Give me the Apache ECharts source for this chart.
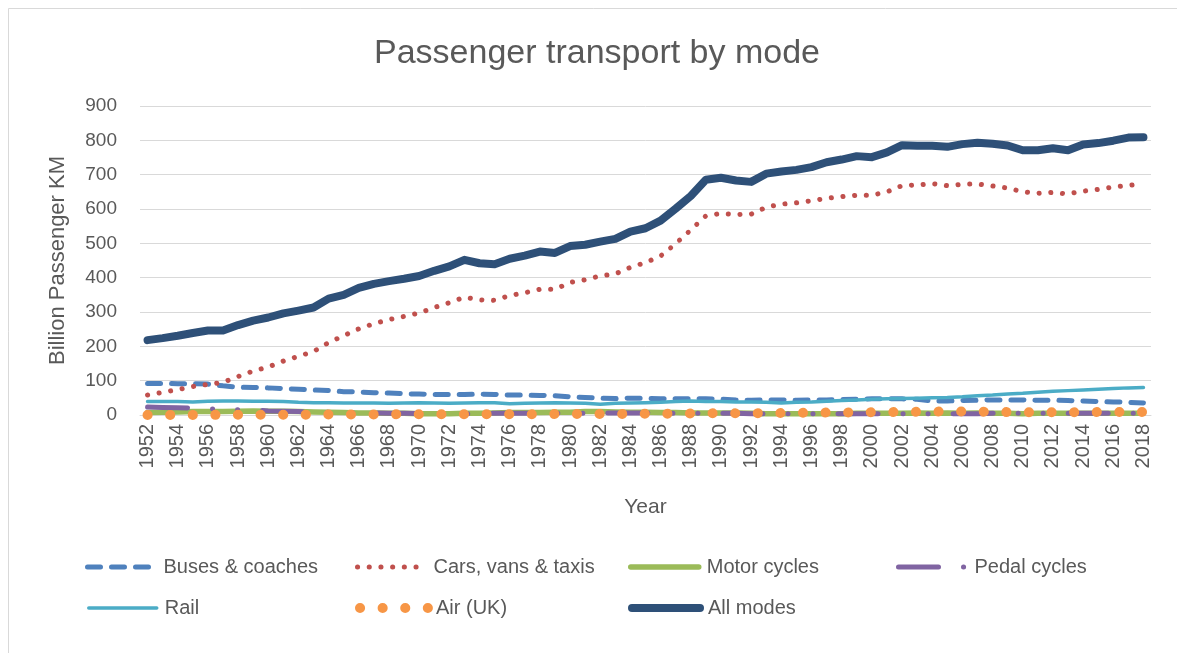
<!DOCTYPE html>
<html>
<head>
<meta charset="utf-8">
<script src="https://cdn.jsdelivr.net/npm/echarts@6/dist/echarts.min.js"></script>
<style>
html,body{margin:0;padding:0;background:#fff;}
#chart{width:1177px;height:653px;}
</style>
</head>
<body>
<div id="chart"></div>
<script>
const years = [];
for (let y = 1952; y <= 2018; y++) years.push(String(y));

const buses = [92,92,91,91,90,85,81,80,79,77,75,73,71,68,67,65,64,62,61,60,60,60,61,60,58,58,57,56,53,51,49,48,49,49,47,47,47,47,46,44,43,44,44,43,44,44,45,46,47,47,47,46,41,41,42,43,44,44,44,43,43,42,41,39,38,37,35];
const cars = [58,66,74,83,89,95,112,128,140,157,171,185,211,231,251,266,278,287,297,313,327,343,335,334,348,356,366,366,386,394,405,411,430,444,463,499,539,580,587,584,585,605,614,618,624,631,636,640,640,650,668,670,674,668,672,673,667,661,650,646,648,644,652,657,664,669,673];
const motorCycles = [7,8,9,10,10,10,11,12,11,11,10,9,8,7,6,6,5,5,4,4,4,5,5,6,7,7,7,8,8,10,10,9,8,8,7,7,6,6,6,6,5,4,4,4,4,4,4,5,5,5,5,6,5,6,5,6,5,5,4,5,5,5,5,5,5,5,5];
const pedalCycles = [23,22,21,20,18,17,15,14,12,11,10,9,8,7,6,6,5,5,4,4,4,4,4,5,5,5,5,5,5,5,6,6,6,6,5,5,5,5,5,5,4,4,4,4,4,4,4,4,4,4,4,4,4,4,4,4,5,5,5,5,5,5,5,5,5,5,5];
const rail = [39,39,39,38,40,41,41,40,40,39,37,36,36,35,35,35,34,35,36,35,34,35,36,36,33,34,35,36,35,34,31,34,35,36,37,39,41,39,39,38,38,37,35,37,38,40,42,44,46,47,48,49,50,51,53,56,58,61,63,66,69,71,73,75,77,79,80];
const air = [0.2,0.2,0.3,0.3,0.4,0.4,0.5,0.6,0.8,0.9,1.0,1.1,1.3,1.4,1.6,1.7,1.8,2.0,2.0,2.0,2.1,2.2,2.0,2.0,2.1,2.2,2.5,2.7,3.0,2.9,3.0,3.1,3.3,3.5,3.7,4.2,4.6,5.0,5.2,5.0,5.2,5.5,5.9,6.3,6.7,7.0,7.3,7.7,8.0,8.2,8.8,9.3,9.8,10.1,10.0,9.9,9.2,8.5,7.9,8.0,8.0,8.0,8.2,8.5,8.8,8.8,8.6];
const allModes = [218,224,231,239,246,246,262,275,284,296,304,313,339,350,370,382,390,397,405,420,433,452,442,439,455,464,476,472,492,496,505,513,534,544,566,601,638,685,691,683,679,703,709,714,722,736,744,754,751,765,786,784,784,781,789,793,790,785,771,771,777,771,788,792,799,808,809];

const yTicks = [0,100,200,300,400,500,600,700,800,900];

const FONT = '"Liberation Sans", Arial, sans-serif';
const TXT = '#595959';

const styles = {
  'Buses & coaches':    { color: '#4F81BD', width: 5,   type: [13, 11] },
  'Cars, vans & taxis': { color: '#C0504D', width: 5,   type: [0.1, 11.6] },
  'Motor cycles':       { color: '#9BBB59', width: 5.5, type: 'solid' },
  'Pedal cycles':       { color: '#8064A2', width: 5,   type: [40, 25, 0.1, 24.9, 0.1, 25] },
  'Rail':               { color: '#4BACC6', width: 3.5, type: 'solid' },
  'Air (UK)':           { color: '#F79646', width: 10,  type: [0.1, 22.5] },
  'All modes':          { color: '#2E5078', width: 8,   type: 'solid' }
};

function mkSeries(name, data, z) {
  const s = styles[name];
  return {
    name, type: 'line', data, symbol: 'none', z,
    lineStyle: { color: s.color, width: s.width, type: s.type, cap: 'round', join: 'round' },
    itemStyle: { color: s.color },
    emphasis: { disabled: true }
  };
}

const series = [
  mkSeries('Buses & coaches', buses, 2),
  mkSeries('Cars, vans & taxis', cars, 3),
  mkSeries('Motor cycles', motorCycles, 4),
  mkSeries('Pedal cycles', pedalCycles, 5),
  mkSeries('Rail', rail, 6),
  mkSeries('Air (UK)', air, 7),
  mkSeries('All modes', allModes, 8)
];

const legendPos = [
  ['Buses & coaches', 85, 557],
  ['Cars, vans & taxis', 355, 557],
  ['Motor cycles', 628, 557],
  ['Pedal cycles', 896, 557],
  ['Rail', 87, 598],
  ['Air (UK)', 355, 598],
  ['All modes', 628, 598]
];
const legends = legendPos.map(([n, l, t]) => {
  const s = styles[n];
  return {
    data: [n], left: l, top: t, padding: 0, itemWidth: 68, itemHeight: 20,
    selectedMode: false,
    itemStyle: { color: 'rgba(0,0,0,0)', borderWidth: 0, opacity: 0 },
    lineStyle: { width: s.width, type: s.type, cap: 'round', color: s.color },
    textStyle: { fontFamily: FONT, fontSize: 20, color: TXT, padding: [0, 0, 0, 3] }
  };
});

const chart = echarts.init(document.getElementById('chart'), null, { renderer: 'canvas' });
chart.setOption({
  animation: false,
  backgroundColor: '#fff',
  title: {
    text: 'Passenger transport by mode', left: 374, top: 37, padding: 0,
    textStyle: { fontFamily: FONT, fontSize: 34, fontWeight: 'normal', color: TXT }
  },
  graphic: [{
    type: 'rect', left: 6, top: 6, shape: { width: 1190, height: 660 },
    style: { fill: 'none', stroke: '#d9d9d9', lineWidth: 1 }, silent: true
  }],
  legend: legends,
  grid: { left: 140, right: 26, top: 106, bottom: 238, containLabel: false },
  xAxis: {
    type: 'category', data: years, boundaryGap: true,
    name: 'Year', nameLocation: 'middle', nameGap: 82,
    nameTextStyle: { fontFamily: FONT, fontSize: 21, color: TXT },
    axisLine: { lineStyle: { color: '#d9d9d9', width: 1 } },
    axisTick: { show: false },
    axisLabel: { interval: 1, rotate: 90, margin: 9, fontFamily: FONT, fontSize: 20, color: TXT }
  },
  yAxis: {
    type: 'value', min: yTicks[0], max: yTicks[yTicks.length - 1], interval: 100,
    name: 'Billion Passenger KM', nameLocation: 'middle', nameGap: 71,
    nameTextStyle: { fontFamily: FONT, fontSize: 22, color: TXT },
    axisLine: { show: false }, axisTick: { show: false },
    axisLabel: { margin: 23, fontFamily: FONT, fontSize: 19, color: TXT },
    splitLine: { lineStyle: { color: '#d9d9d9', width: 1 } }
  },
  series
});
</script>
</body>
</html>
